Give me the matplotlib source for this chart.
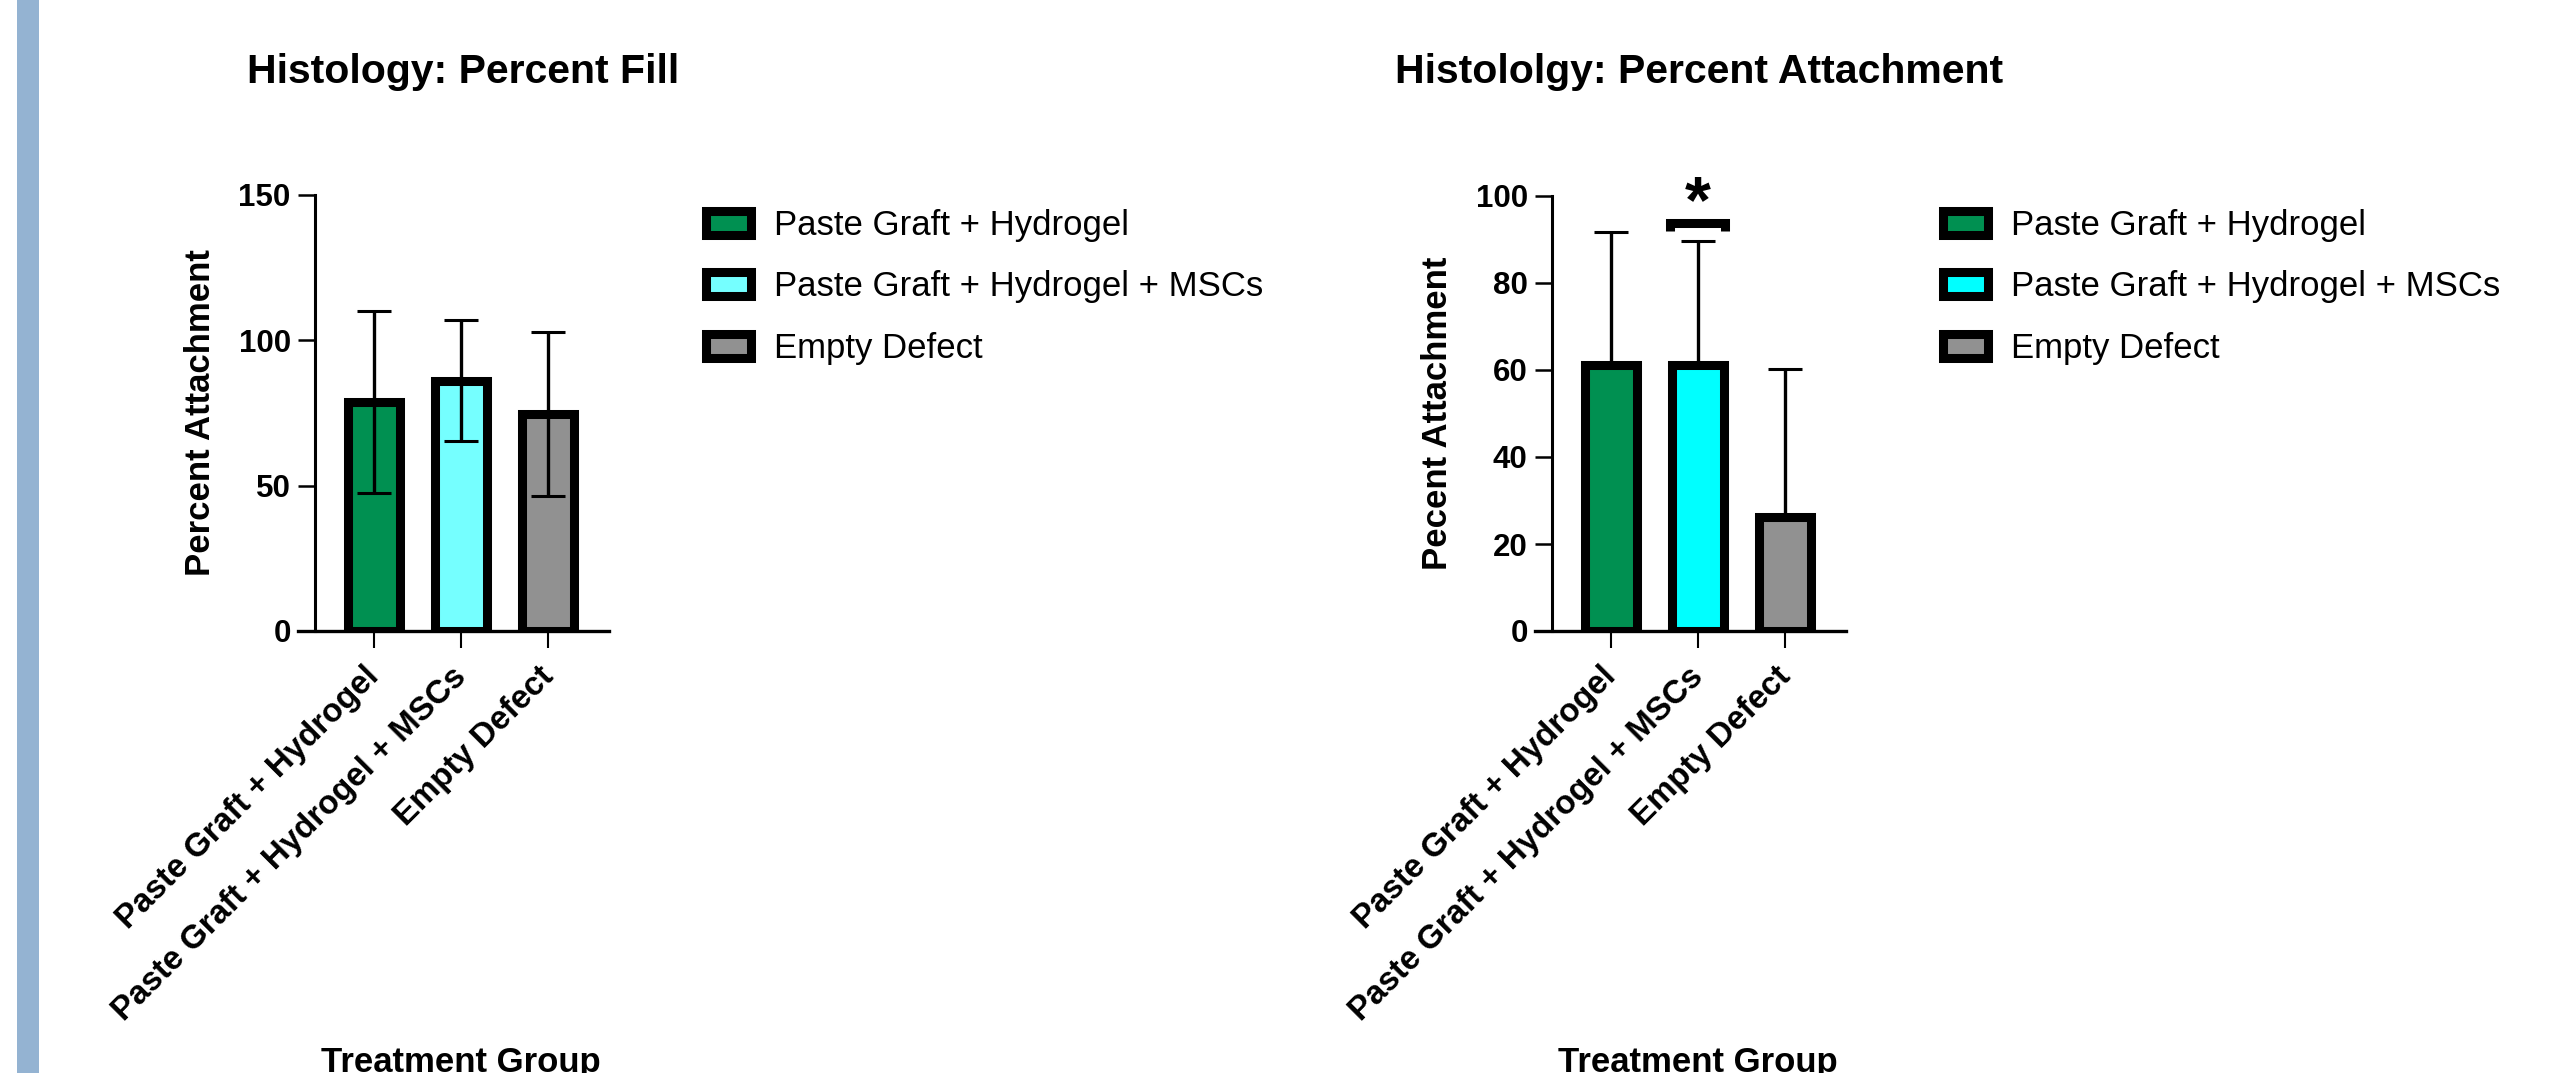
import matplotlib
matplotlib.use('Agg')
import matplotlib.pyplot as plt
import matplotlib.transforms as mtransforms
from matplotlib.patches import Rectangle, Patch
import numpy as np

plt.rcParams['font.family'] = ['Liberation Sans', 'DejaVu Sans']

# ---------------- data ----------------
categories = ['Paste Graft + Hydrogel', 'Paste Graft + Hydrogel + MSCs', 'Empty Defect']

fill_means = [78.8, 86.1, 74.6]
fill_sd = [31.3, 20.8, 28.1]
fill_yticks = [0, 50, 100, 150]

attach_means = [61.1, 61.1, 26.2]
attach_sd_upper = [30.6, 28.6, 34.1]
attach_yticks = [0, 20, 40, 60, 80, 100]

fill_colors = ['#009051', '#75FFFF', '#919191']
attach_colors = ['#009051', '#00FFFF', '#919191']

sig_group = 1          # significance marker over group index 1
sig_line_y = 93.7
star_baseline_y = 94.0

# ---------------- figure ----------------
W, H = 2550, 1073
DPI = 100
fig = plt.figure(figsize=(W / DPI, H / DPI), dpi=DPI)
fig.patch.set_facecolor('white')

# light blue band at left edge
fig.add_artist(Rectangle((17 / W, 0), 22 / W, 1, transform=fig.transFigure,
                         facecolor='#94B3D2', edgecolor='none'))


def px_axes(x0, x1, y_top, y_bottom):
    return fig.add_axes([x0 / W, 1 - y_bottom / H, (x1 - x0) / W, (y_bottom - y_top) / H])


EDGE_LW = 6.5
BAR_W = 0.595
XLIM = (-0.87, 2.70)
SPINE_X = -0.68


def style_axes(ax, means, colors, ylim, yticks, ylabel, yerr, legend_xy):
    x = np.arange(len(categories))
    ax.bar(x, means, width=BAR_W, color=colors, edgecolor='black',
           linewidth=EDGE_LW, zorder=2)
    ax.errorbar(x, means, yerr=yerr, fmt='none', ecolor='black',
                elinewidth=2.4, capsize=11.9, capthick=2.2, zorder=3)
    ax.set_xlim(*XLIM)
    ax.set_ylim(*ylim)
    ax.set_yticks(yticks)
    ax.set_xticks(x)
    for s in ('top', 'right'):
        ax.spines[s].set_visible(False)
    ax.spines['left'].set_position(('data', SPINE_X))
    ax.spines['left'].set_linewidth(2.2)
    ax.spines['bottom'].set_linewidth(2.4)
    ax.tick_params(axis='y', direction='out', length=12.2, width=1.8, pad=5,
                   labelsize=22.5)
    ax.tick_params(axis='x', direction='out', length=12.2, width=1.5, pad=9.5,
                   labelsize=23.8)
    for lab in ax.get_yticklabels():
        lab.set_fontweight('bold')
    ax.set_xticklabels(categories, rotation=45, ha='right', va='top',
                       rotation_mode='anchor', fontweight='bold')
    off = mtransforms.ScaledTranslation(-10 / DPI, 0, fig.dpi_scale_trans)
    for lab in ax.get_xticklabels():
        lab.set_transform(lab.get_transform() + off)
    ax.set_ylabel(ylabel, fontsize=25, fontweight='bold')
    ax.yaxis.set_label_coords(-0.259, 0.5)
    # x axis label centred on middle group, near figure bottom
    tr = mtransforms.blended_transform_factory(ax.transData, fig.transFigure)
    ax.text(1, 1 - 1046 / H, 'Treatment Group', transform=tr, ha='center',
            va='top', fontsize=25, fontweight='bold')
    handles = [Patch(facecolor=c, edgecolor='black', linewidth=EDGE_LW) for c in colors]
    ax.legend(handles, categories, loc='upper left',
              bbox_to_anchor=(legend_xy[0] / W, 1 - legend_xy[1] / H),
              bbox_transform=fig.transFigure, frameon=False, fontsize=25,
              handlelength=1.296, handleheight=0.686, handletextpad=0.68,
              labelspacing=0.82, borderpad=0, borderaxespad=0)


# ---- left panel ----
ax1 = px_axes(298, 609, 195, 631)
style_axes(ax1, fill_means, fill_colors, (0, 150), fill_yticks,
           'Percent Attachment', fill_sd, (705.5, 209))
fig.text(247 / W, 1 - 83 / H, 'Histology: Percent Fill', fontsize=29.5,
         fontweight='bold', ha='left', va='baseline')

# ---- right panel ----
ax2 = px_axes(1535, 1846, 196, 631)
style_axes(ax2, attach_means, attach_colors, (0, 100), attach_yticks,
           'Pecent Attachment', [np.zeros(3), attach_sd_upper], (1942.5, 209))
fig.text(1395 / W, 1 - 83 / H, 'Histololgy: Percent Attachment', fontsize=29.5,
         fontweight='bold', ha='left', va='baseline')

# significance marker
half = 0.315
drop = 1.7
ax2.plot([sig_group - half, sig_group - half, sig_group + half, sig_group + half],
         [sig_line_y - drop, sig_line_y, sig_line_y, sig_line_y - drop],
         color='black', lw=6.5, solid_capstyle='butt', solid_joinstyle='miter',
         clip_on=False, zorder=4)
ax2.text(sig_group, star_baseline_y, '*', ha='center', va='baseline',
         fontsize=48, fontweight='bold', clip_on=False)

fig.savefig('out.png', dpi=DPI, facecolor='white')
